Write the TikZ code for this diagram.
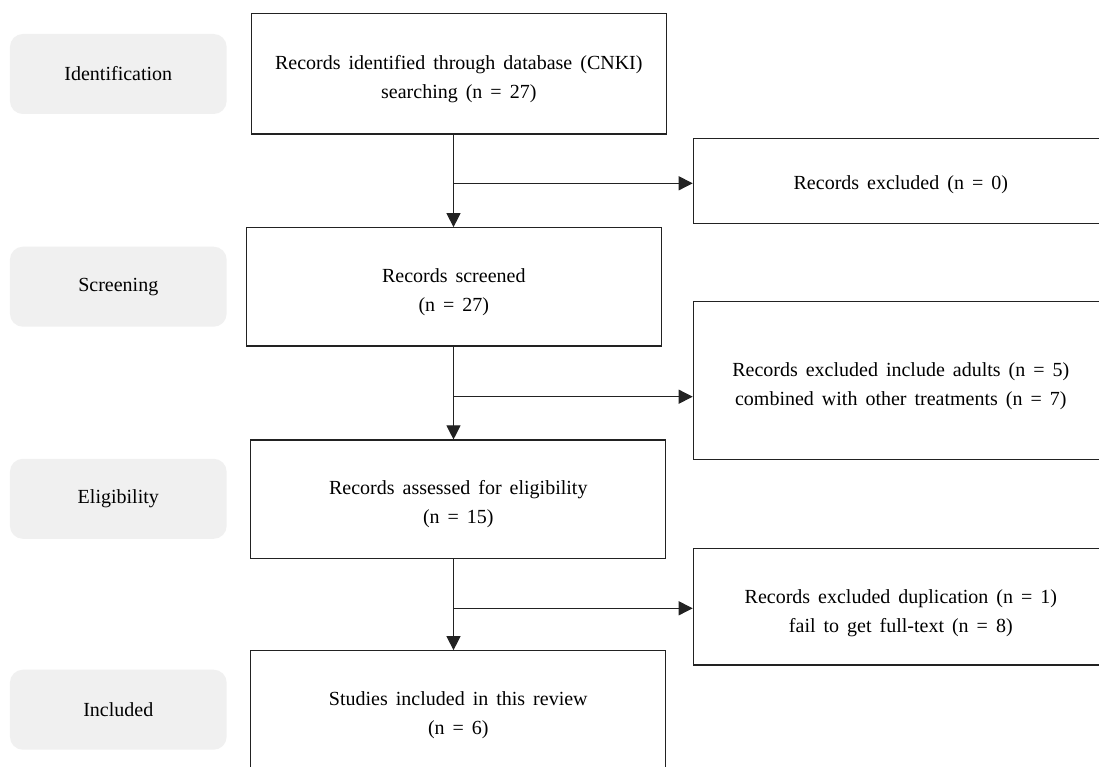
\documentclass[tikz,border=0pt]{standalone}
\usepackage{fontspec}
\setmainfont{Liberation Serif}
\usetikzlibrary{arrows.meta}
\definecolor{stagefill}{HTML}{F0F0F0}
\definecolor{edge}{HTML}{222222}
\tikzset{
  txt/.style={font={\fontsize{20}{29}\selectfont\spaceskip=0.4em plus 0.1em minus 0.05em\relax}, align=center},
  stagebox/.style={txt, draw=none, fill=stagefill, rounded corners=13pt, minimum width=216.7pt, minimum height=80pt, inner sep=0pt},
  flowbox/.style={draw=edge, line width=1.2pt, fill=white, minimum width=415pt, inner sep=0pt},
  boxtext/.style={txt, inner sep=0pt, yshift=-5pt},
  conn/.style={draw=edge, line width=1pt},
  arr/.style={conn, -{Triangle[length=14pt,width=14pt]}}
}
\begin{document}
\begin{tikzpicture}[x=1pt,y=-1pt]
\useasboundingbox (0,0) rectangle (1099,767);
\clip (0,0) rectangle (1099,767);
\fill[white] (0,0) rectangle (1099,767);
% stage labels
\node[stagebox] (sId)  at (118.3,74)    {Identification};
\node[stagebox] (sScr) at (118.3,286.7) {Screening};
\node[stagebox] (sEl)  at (118.3,498.8) {Eligibility};
\node[stagebox] (sInc) at (118.3,709.7) {Included};
% main flow boxes
\node[flowbox, minimum height=120.7pt,
  label={[boxtext]center:{Records identified through database (CNKI)\\searching (n = 27)}}]
  (ident) at (458.8,73.7) {};
\node[flowbox, minimum height=118.3pt,
  label={[boxtext]center:{Records screened\\(n = 27)}}]
  (screen) at (453.8,286.9) {};
\node[flowbox, minimum height=118.3pt,
  label={[boxtext]center:{Records assessed for eligibility\\(n = 15)}}]
  (assess) at (458.3,499.2) {};
\node[flowbox, minimum height=118.3pt,
  label={[boxtext]center:{Studies included in this review\\(n = 6)}}]
  (incl) at (458.3,709.9) {};
% exclusion boxes
\node[flowbox, minimum height=85pt,
  label={[boxtext, yshift=1pt]center:{Records excluded (n = 0)}}]
  (ex0) at (900.8,180.8) {};
\node[flowbox, minimum height=157.6pt,
  label={[boxtext, yshift=-1pt]center:{Records excluded include adults (n = 5)\\combined with other treatments (n = 7)}}]
  (ex1) at (900.8,380.5) {};
\node[flowbox, minimum height=116.7pt,
  label={[boxtext, yshift=-1.5pt]center:{Records excluded duplication (n = 1)\\fail to get full-text (n = 8)}}]
  (ex2) at (900.8,606.7) {};
% spine and branch points
\coordinate (spine) at (453.5,0);
\coordinate (b1) at (453.5,183.3);
\coordinate (b2) at (453.5,396.7);
\coordinate (b3) at (453.5,608.3);
% connectors
\draw[arr] (ident.south -| spine) -- (screen.north -| spine);
\draw[arr] (b1) -- (b1 -| ex0.west);
\draw[arr] (screen.south -| spine) -- (assess.north -| spine);
\draw[arr] (b2) -- (b2 -| ex1.west);
\draw[arr] (assess.south -| spine) -- (incl.north -| spine);
\draw[arr] (b3) -- (b3 -| ex2.west);
\end{tikzpicture}
\end{document}
